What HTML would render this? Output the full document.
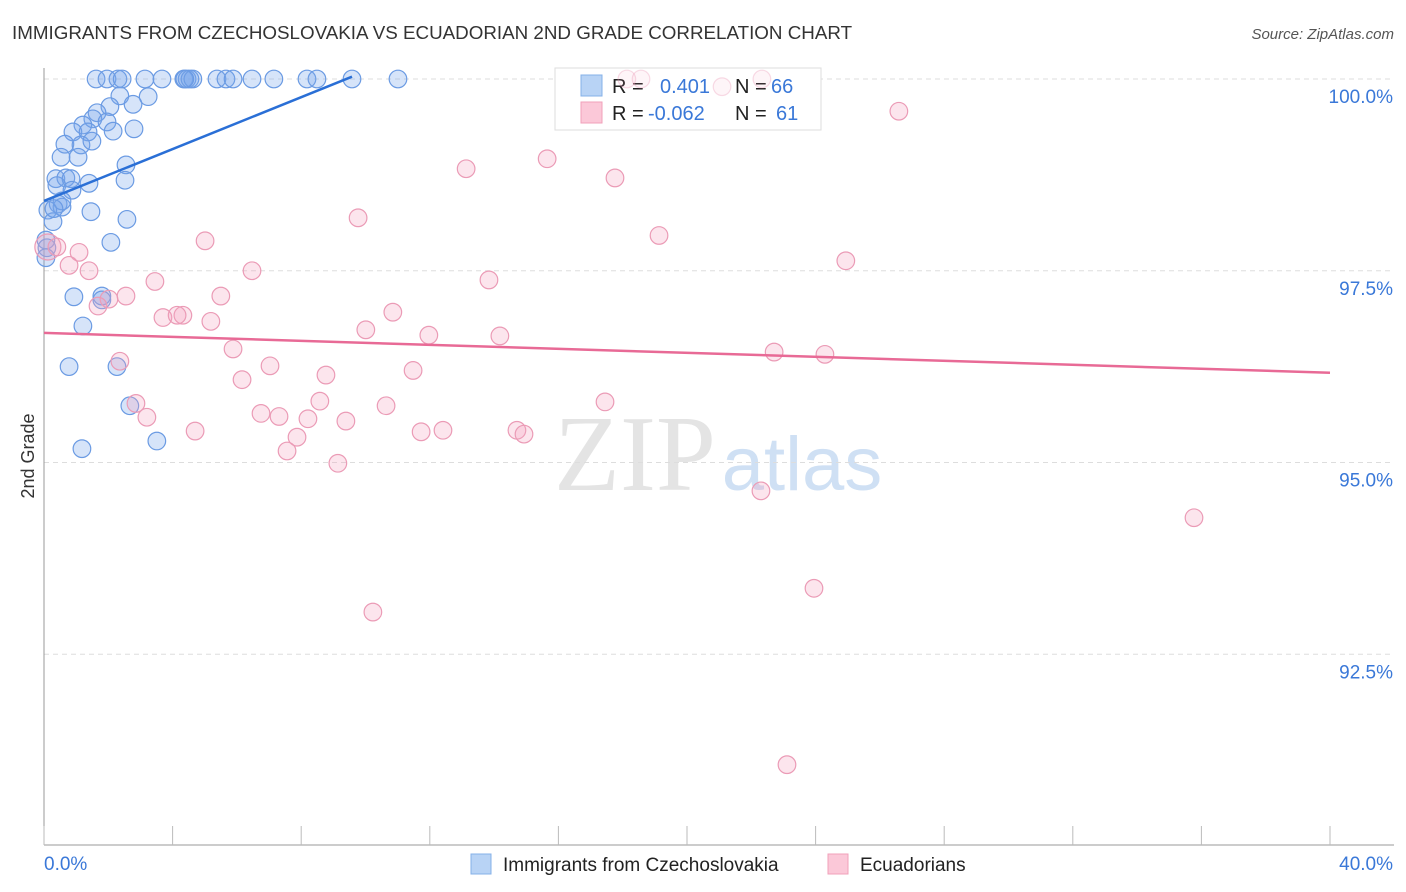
<!DOCTYPE html>
<html><head><meta charset="utf-8">
<style>
body{margin:0;background:#fff;font-family:"Liberation Sans",sans-serif;}
svg{display:block}
</style></head>
<body>
<svg id="chart" width="1406" height="892" xmlns="http://www.w3.org/2000/svg">
<text x="12" y="39" font-size="18.8" fill="#333">IMMIGRANTS FROM CZECHOSLOVAKIA VS ECUADORIAN 2ND GRADE CORRELATION CHART</text>
<text x="1394" y="39" font-size="15" fill="#555" font-style="italic" text-anchor="end">Source: ZipAtlas.com</text>
<text x="0" y="0" transform="translate(34,456) rotate(-90)" font-size="18" fill="#333" text-anchor="middle">2nd Grade</text>
<g>
<text x="635" y="490" font-size="108" font-family="Liberation Serif,serif" fill="#e4e4e4" text-anchor="middle">ZIP</text>
<text x="802" y="490" font-size="76" fill="#cfe0f4" text-anchor="middle">atlas</text>
</g>
<g id="grid"></g>
<g id="axes"></g>
<g>
<rect x="555" y="68" width="266" height="62" fill="#fff" stroke="#ddd"/>
<rect x="581" y="75" width="21" height="21" fill="#b8d3f5" stroke="#85b0e8"/>
<rect x="581" y="102" width="21" height="21" fill="#fbc8d8" stroke="#f0a0ba"/>
<text x="612" y="93" font-size="20" fill="#222">R =</text>
<text x="660" y="93" font-size="20" fill="#3a78d8">0.401</text>
<text x="735" y="93" font-size="20" fill="#222">N =</text>
<text x="771" y="93" font-size="20" fill="#3a78d8">66</text>
<text x="612" y="120" font-size="20" fill="#222">R =</text>
<text x="648" y="120" font-size="20" fill="#3a78d8">-0.062</text>
<text x="735" y="120" font-size="20" fill="#222">N =</text>
<text x="776" y="120" font-size="20" fill="#3a78d8">61</text>
</g>
<g id="pts"></g>
<g id="trend"></g>
<g>
<rect x="471" y="854" width="20" height="20" fill="#b8d3f5" stroke="#85b0e8"/>
<text x="503" y="871" font-size="19" fill="#222">Immigrants from Czechoslovakia</text>
<rect x="828" y="854" width="20" height="20" fill="#fbc8d8" stroke="#f0a0ba"/>
<text x="860" y="871" font-size="19" fill="#222">Ecuadorians</text>
</g>
</svg>
<script>
const blueX=[1.62,1.96,2.30,2.43,3.14,3.67,4.35,4.45,4.54,4.63,5.38,5.66,5.88,6.47,7.15,8.18,8.49,9.58,11.01,2.36,3.24,2.05,2.77,1.65,1.52,1.96,1.21,0.90,1.37,2.15,2.80,0.65,1.15,1.49,0.53,1.06,2.55,0.37,0.68,0.84,1.40,2.52,0.40,0.87,0.44,0.56,0.12,1.46,0.28,2.58,2.08,0.06,0.09,0.06,0.93,1.80,1.80,1.21,0.78,2.27,2.67,3.51,1.18,0.56,0.31,4.38];
const blueY=[100,100,100,100,100,100,100,100,100,100,100,100,100,100,100,100,100,100,100,99.78,99.77,99.64,99.67,99.56,99.48,99.44,99.40,99.31,99.31,99.32,99.35,99.15,99.14,99.19,98.98,98.98,98.88,98.70,98.71,98.70,98.64,98.68,98.61,98.55,98.37,98.33,98.29,98.27,98.14,98.17,97.87,97.90,97.80,97.67,97.16,97.17,97.12,96.78,96.25,96.25,95.74,95.28,95.18,98.41,98.31,100];
const pinkX=[0.12,0.40,1.09,0.78,1.40,18.13,18.57,21.09,22.33,26.59,13.13,15.65,17.76,9.77,19.13,5.01,24.94,6.47,13.84,3.45,5.50,2.55,2.02,1.68,10.85,3.70,4.32,4.14,5.19,10.01,11.97,14.18,5.88,2.36,22.71,24.29,7.03,6.16,8.77,11.48,2.86,8.58,10.64,17.45,3.20,6.75,7.31,8.21,9.39,4.70,7.87,11.73,12.41,14.71,14.93,7.56,9.14,22.30,35.77,23.95,10.23,23.11];
const pinkY=[97.81,97.81,97.74,97.57,97.50,100,100,99.90,100,99.58,98.83,98.96,98.71,98.19,97.96,97.89,97.63,97.50,97.38,97.36,97.17,97.17,97.13,97.04,96.96,96.89,96.92,96.92,96.84,96.73,96.66,96.65,96.48,96.32,96.44,96.41,96.26,96.08,96.14,96.20,95.77,95.80,95.74,95.79,95.59,95.64,95.60,95.57,95.54,95.41,95.33,95.40,95.42,95.42,95.37,95.15,94.99,94.63,94.28,93.36,93.05,91.06];
const xTicks=[0,4,8,12,16,20,24,28,32,36,40];
const yTicks=[100,97.5,95,92.5];
const yTickLabels=["100.0%","97.5%","95.0%","92.5%"];
const blueTrend=[[0,98.41],[9.58,100.03]];
const pinkTrend=[[0,96.69],[40,96.17]];
const NS="http://www.w3.org/2000/svg";
const X=v=>44+v*32.15, Y=v=>79+(100-v)*76.7;
function mk(t,a,p){const e=document.createElementNS(NS,t);for(const k in a)e.setAttribute(k,a[k]);p.appendChild(e);return e;}
const grid=document.getElementById('grid'),axes=document.getElementById('axes');
yTicks.forEach((t,i)=>{
 const l=mk('line',{x1:44,x2:1394,y1:Y(t),y2:Y(t),stroke:'#ddd','stroke-dasharray':'5,4'},grid);
 
 
 const tx=mk('text',{x:1393,y:Y(t)+24,'font-size':19,fill:'#3a78d8','text-anchor':'end'},axes);
 tx.textContent=yTickLabels[i];
 
 
});
const ax=mk('line',{x1:44,x2:44,y1:68,y2:845,stroke:'#999'},axes);


const bx=mk('line',{x1:44,x2:1394,y1:845,y2:845,stroke:'#999'},axes);


xTicks.forEach(t=>{
 const l=mk('line',{x1:X(t),x2:X(t),y1:826,y2:845,stroke:'#bbb'},axes);
 
 
});
const xl0=mk('text',{x:44,y:870,'font-size':19,fill:'#3a78d8'},axes);xl0.textContent=xTicks[0].toFixed(1)+'%';


const xl1=mk('text',{x:1393,y:870,'font-size':19,fill:'#3a78d8','text-anchor':'end'},axes);xl1.textContent=xTicks[xTicks.length-1].toFixed(1)+'%';


const pts=document.getElementById('pts');
blueX.forEach((v,i)=>{
 const c=mk('circle',{cx:X(v),cy:Y(blueY[i]),r:8.8,fill:'rgba(120,165,235,0.3)',stroke:'#6b9be3','stroke-width':1.2},pts);
 
 
});
pinkX.forEach((v,i)=>{
 const c=mk('circle',{cx:X(v),cy:Y(pinkY[i]),r:i<1?13:8.8,fill:'rgba(245,160,190,0.28)',stroke:'#eb9bb6','stroke-width':1.2,'stroke-opacity':(pinkY[i]>=99.9?0.35:1),'fill-opacity':(pinkY[i]>=99.9?0.4:1)},pts);
 
 
});
const tr=document.getElementById('trend');
const b=mk('line',{x1:X(blueTrend[0][0]),y1:Y(blueTrend[0][1]),x2:X(blueTrend[1][0]),y2:Y(blueTrend[1][1]),stroke:'#2a6fd6','stroke-width':2.5},tr);


const p=mk('line',{x1:X(pinkTrend[0][0]),y1:Y(pinkTrend[0][1]),x2:X(pinkTrend[1][0]),y2:Y(pinkTrend[1][1]),stroke:'#e86a96','stroke-width':2.5},tr);


</script>
</body></html>
